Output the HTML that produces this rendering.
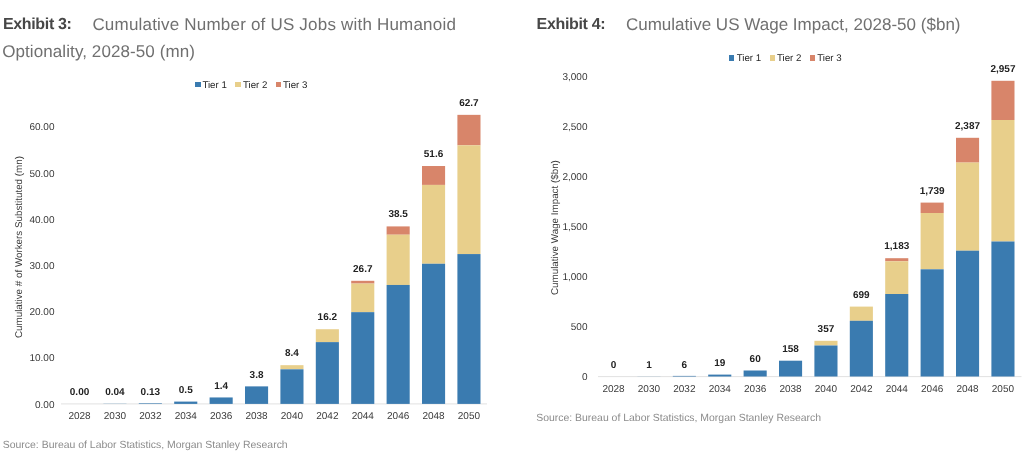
<!DOCTYPE html>
<html lang="en"><head><meta charset="utf-8"><title>Exhibits 3 and 4</title>
<style>
html,body{margin:0;padding:0;background:#fff}
body{width:1024px;height:460px;position:relative;overflow:hidden;font-family:"Liberation Sans",Arial,sans-serif;color:#333;text-rendering:geometricPrecision}
#wrap{position:absolute;left:0;top:0;width:1024px;height:460px;filter:blur(0.6px)}
.b{position:absolute}
.xl,.dl{position:absolute;width:40px;text-align:center;font-size:10px;line-height:14px;white-space:nowrap}
.xl{color:#3a3a3a}
.dl{font-weight:bold;font-size:10px;color:#222}
.yl{position:absolute;text-align:right;font-size:10px;line-height:14px;color:#3a3a3a;white-space:nowrap}
.ax{position:absolute;height:1px;background:#e4e4e4}
.t{position:absolute;white-space:nowrap;line-height:20px}
.ex{font-weight:bold;color:#474747;font-size:16px;letter-spacing:-0.33px}
.ti{color:#707070;font-size:17px}
.src{position:absolute;white-space:nowrap;font-size:10.45px;line-height:14px;color:#8c8c8c}
.lg{position:absolute;white-space:nowrap;line-height:12px;color:#262626;font-size:9.7px}
.sq{position:absolute}
.rot{position:absolute;white-space:nowrap;font-size:9.82px;line-height:12px;color:#3a3a3a;transform-origin:0 0;transform:rotate(-90deg)}
</style></head><body><div id="wrap">
<div class="t ex" id="ex3" style="left:2.9px;top:14.6px">Exhibit 3:</div>
<div class="t ti" id="ti3a" style="left:92.4px;top:14.9px;letter-spacing:0.2px">Cumulative Number of US Jobs with Humanoid</div>
<div class="t ti" id="ti3b" style="left:2.2px;top:42.1px;letter-spacing:0.09px">Optionality, 2028-50 (mn)</div>
<div class="t ex" id="ex4" style="left:536.6px;top:14.6px">Exhibit 4:</div>
<div class="t ti" id="ti4" style="left:625.9px;top:14.9px;letter-spacing:0.02px">Cumulative US Wage Impact, 2028-50 ($bn)</div>

<div class="sq" style="left:195.4px;top:81.8px;width:5.6px;height:5.6px;background:#3a7bb0"></div>
<div class="lg" id="lg1" style="left:202.4px;top:79.6px">Tier 1</div>
<div class="sq" style="left:235.4px;top:81.8px;width:5.6px;height:5.6px;background:#e8cf8b"></div>
<div class="lg" style="left:243px;top:79.6px">Tier 2</div>
<div class="sq" style="left:275.5px;top:81.8px;width:5.6px;height:5.6px;background:#d8856a"></div>
<div class="lg" style="left:283px;top:79.6px">Tier 3</div>

<div class="sq" style="left:728.9px;top:55.4px;width:5.2px;height:5.2px;background:#3a7bb0"></div>
<div class="lg" id="lg2" style="left:736.7px;top:52.5px">Tier 1</div>
<div class="sq" style="left:770.2px;top:55.4px;width:5.2px;height:5.2px;background:#e8cf8b"></div>
<div class="lg" style="left:777px;top:52.5px">Tier 2</div>
<div class="sq" style="left:809.8px;top:55.4px;width:5.2px;height:5.2px;background:#d8856a"></div>
<div class="lg" style="left:817.2px;top:52.5px">Tier 3</div>

<svg style="position:absolute;left:0;top:0" width="1024" height="460" viewBox="0 0 1024 460"><rect x="61" y="403.4" width="426" height="1" fill="#e2e2e2"/>
<rect x="598" y="376.1" width="423.5" height="1" fill="#e2e2e2"/>
<rect x="103.40" y="403.72" width="23.10" height="0.18" fill="#3a7bb0"/>
<rect x="138.80" y="403.30" width="23.10" height="0.60" fill="#3a7bb0"/>
<rect x="174.20" y="401.59" width="23.10" height="2.31" fill="#3a7bb0"/>
<rect x="209.60" y="397.45" width="23.10" height="6.45" fill="#3a7bb0"/>
<rect x="245.00" y="386.38" width="23.10" height="17.52" fill="#3a7bb0"/>
<rect x="280.40" y="365.18" width="23.10" height="4.15" fill="#e8cf8b"/>
<rect x="280.40" y="369.32" width="23.10" height="34.57" fill="#3a7bb0"/>
<rect x="315.80" y="329.22" width="23.10" height="12.91" fill="#e8cf8b"/>
<rect x="315.80" y="342.13" width="23.10" height="61.77" fill="#3a7bb0"/>
<rect x="351.20" y="280.81" width="23.10" height="2.77" fill="#d8856a"/>
<rect x="351.20" y="283.58" width="23.10" height="28.58" fill="#e8cf8b"/>
<rect x="351.20" y="312.16" width="23.10" height="91.74" fill="#3a7bb0"/>
<rect x="386.60" y="226.41" width="23.10" height="8.30" fill="#d8856a"/>
<rect x="386.60" y="234.71" width="23.10" height="50.25" fill="#e8cf8b"/>
<rect x="386.60" y="284.96" width="23.10" height="118.94" fill="#3a7bb0"/>
<rect x="422.00" y="166.02" width="23.10" height="18.90" fill="#d8856a"/>
<rect x="422.00" y="184.92" width="23.10" height="78.83" fill="#e8cf8b"/>
<rect x="422.00" y="263.76" width="23.10" height="140.14" fill="#3a7bb0"/>
<rect x="457.40" y="114.85" width="23.10" height="30.43" fill="#d8856a"/>
<rect x="457.40" y="145.28" width="23.10" height="108.80" fill="#e8cf8b"/>
<rect x="457.40" y="254.07" width="23.10" height="149.83" fill="#3a7bb0"/>
<rect x="637.40" y="376.40" width="23.10" height="0.10" fill="#3a7bb0"/>
<rect x="672.80" y="375.90" width="23.10" height="0.60" fill="#3a7bb0"/>
<rect x="708.20" y="374.60" width="23.10" height="1.90" fill="#3a7bb0"/>
<rect x="743.60" y="370.50" width="23.10" height="6.00" fill="#3a7bb0"/>
<rect x="779.00" y="360.70" width="23.10" height="15.80" fill="#3a7bb0"/>
<rect x="814.40" y="340.80" width="23.10" height="4.70" fill="#e8cf8b"/>
<rect x="814.40" y="345.50" width="23.10" height="31.00" fill="#3a7bb0"/>
<rect x="849.80" y="306.60" width="23.10" height="14.20" fill="#e8cf8b"/>
<rect x="849.80" y="320.80" width="23.10" height="55.70" fill="#3a7bb0"/>
<rect x="885.20" y="258.20" width="23.10" height="3.10" fill="#d8856a"/>
<rect x="885.20" y="261.30" width="23.10" height="32.70" fill="#e8cf8b"/>
<rect x="885.20" y="294.00" width="23.10" height="82.50" fill="#3a7bb0"/>
<rect x="920.60" y="202.60" width="23.10" height="10.40" fill="#d8856a"/>
<rect x="920.60" y="213.00" width="23.10" height="56.30" fill="#e8cf8b"/>
<rect x="920.60" y="269.30" width="23.10" height="107.20" fill="#3a7bb0"/>
<rect x="956.00" y="137.80" width="23.10" height="24.80" fill="#d8856a"/>
<rect x="956.00" y="162.60" width="23.10" height="88.10" fill="#e8cf8b"/>
<rect x="956.00" y="250.70" width="23.10" height="125.80" fill="#3a7bb0"/>
<rect x="991.40" y="80.80" width="23.10" height="39.20" fill="#d8856a"/>
<rect x="991.40" y="120.00" width="23.10" height="121.50" fill="#e8cf8b"/>
<rect x="991.40" y="241.50" width="23.10" height="135.00" fill="#3a7bb0"/></svg>
<div class="xl" style="left:59.55px;top:409.50px">2028</div>
<div class="dl" style="left:59.55px;top:386px">0.00</div>
<div class="xl" style="left:94.95px;top:409.50px">2030</div>
<div class="dl" style="left:94.95px;top:386px">0.04</div>
<div class="xl" style="left:130.35px;top:409.50px">2032</div>
<div class="dl" style="left:130.35px;top:386px">0.13</div>
<div class="xl" style="left:165.75px;top:409.50px">2034</div>
<div class="dl" style="left:165.75px;top:384px">0.5</div>
<div class="xl" style="left:201.15px;top:409.50px">2036</div>
<div class="dl" style="left:201.15px;top:380px">1.4</div>
<div class="xl" style="left:236.55px;top:409.50px">2038</div>
<div class="dl" style="left:236.55px;top:369px">3.8</div>
<div class="xl" style="left:271.95px;top:409.50px">2040</div>
<div class="dl" style="left:271.95px;top:347px">8.4</div>
<div class="xl" style="left:307.35px;top:409.50px">2042</div>
<div class="dl" style="left:307.35px;top:311px">16.2</div>
<div class="xl" style="left:342.75px;top:409.50px">2044</div>
<div class="dl" style="left:342.75px;top:263px">26.7</div>
<div class="xl" style="left:378.15px;top:409.50px">2046</div>
<div class="dl" style="left:378.15px;top:208px">38.5</div>
<div class="xl" style="left:413.55px;top:409.50px">2048</div>
<div class="dl" style="left:413.55px;top:148px">51.6</div>
<div class="xl" style="left:448.95px;top:409.50px">2050</div>
<div class="dl" style="left:448.95px;top:97px">62.7</div>
<div class="xl" style="left:593.55px;top:383.00px">2028</div>
<div class="dl" style="left:593.55px;top:359px">0</div>
<div class="xl" style="left:628.95px;top:383.00px">2030</div>
<div class="dl" style="left:628.95px;top:359px">1</div>
<div class="xl" style="left:664.35px;top:383.00px">2032</div>
<div class="dl" style="left:664.35px;top:359px">6</div>
<div class="xl" style="left:699.75px;top:383.00px">2034</div>
<div class="dl" style="left:699.75px;top:357px">19</div>
<div class="xl" style="left:735.15px;top:383.00px">2036</div>
<div class="dl" style="left:735.15px;top:353px">60</div>
<div class="xl" style="left:770.55px;top:383.00px">2038</div>
<div class="dl" style="left:770.55px;top:343px">158</div>
<div class="xl" style="left:805.95px;top:383.00px">2040</div>
<div class="dl" style="left:805.95px;top:323px">357</div>
<div class="xl" style="left:841.35px;top:383.00px">2042</div>
<div class="dl" style="left:841.35px;top:289px">699</div>
<div class="xl" style="left:876.75px;top:383.00px">2044</div>
<div class="dl" style="left:876.75px;top:240px">1,183</div>
<div class="xl" style="left:912.15px;top:383.00px">2046</div>
<div class="dl" style="left:912.15px;top:185px">1,739</div>
<div class="xl" style="left:947.55px;top:383.00px">2048</div>
<div class="dl" style="left:947.55px;top:120px">2,387</div>
<div class="xl" style="left:982.95px;top:383.00px">2050</div>
<div class="dl" style="left:982.95px;top:63px">2,957</div>
<div class="yl" style="left:4px;width:50.5px;top:399px">0.00</div>
<div class="yl" style="left:4px;width:50.5px;top:352px">10.00</div>
<div class="yl" style="left:4px;width:50.5px;top:306px">20.00</div>
<div class="yl" style="left:4px;width:50.5px;top:260px">30.00</div>
<div class="yl" style="left:4px;width:50.5px;top:214px">40.00</div>
<div class="yl" style="left:4px;width:50.5px;top:168px">50.00</div>
<div class="yl" style="left:4px;width:50.5px;top:121px">60.00</div>
<div class="yl" style="left:537px;width:50.5px;top:371px">0</div>
<div class="yl" style="left:537px;width:50.5px;top:321px">500</div>
<div class="yl" style="left:537px;width:50.5px;top:271px">1,000</div>
<div class="yl" style="left:537px;width:50.5px;top:221px">1,500</div>
<div class="yl" style="left:537px;width:50.5px;top:171px">2,000</div>
<div class="yl" style="left:537px;width:50.5px;top:121px">2,500</div>
<div class="yl" style="left:537px;width:50.5px;top:71px">3,000</div>
<div class="rot" id="rot1" style="left:13.9px;top:337.9px">Cumulative # of Workers Substituted (mn)</div>
<div class="rot" id="rot2" style="left:549.7px;top:294.9px">Cumulative Wage Impact ($bn)</div>
<div class="src" id="src1" style="left:2.8px;top:439.2px">Source: Bureau of Labor Statistics, Morgan Stanley Research</div>
<div class="src" id="src2" style="left:536.2px;top:411.8px">Source: Bureau of Labor Statistics, Morgan Stanley Research</div>
</div></body></html>
